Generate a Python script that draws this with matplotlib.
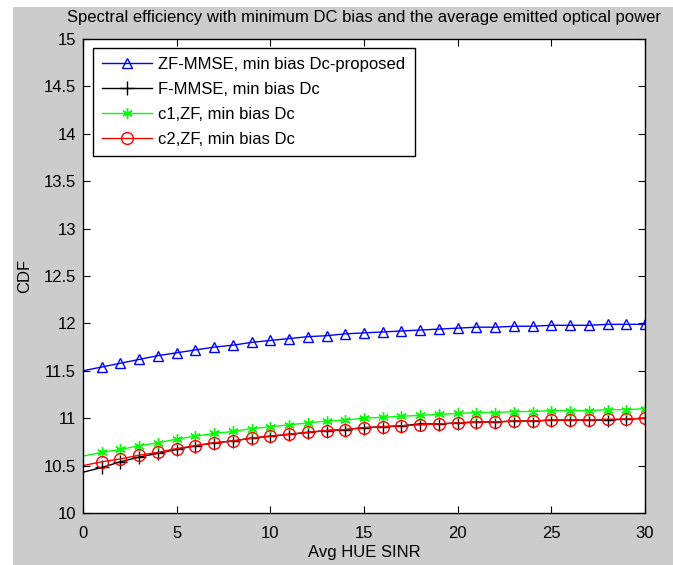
import matplotlib
matplotlib.use('Agg')
import matplotlib.pyplot as plt
from matplotlib.patches import Rectangle

plt.rcParams['font.family'] = ['Liberation Sans', 'DejaVu Sans']

# данные
snr = list(range(0, 31))
zf_mmse_prop = [11.50, 11.54, 11.58, 11.62, 11.66, 11.69, 11.72, 11.75, 11.77, 11.80,
                11.82, 11.84, 11.86, 11.87, 11.89, 11.90, 11.91, 11.92, 11.93, 11.94,
                11.95, 11.96, 11.96, 11.97, 11.97, 11.98, 11.98, 11.98, 11.99, 11.99, 11.99]
f_mmse = [10.43, 10.48, 10.54, 10.59, 10.63, 10.67, 10.71, 10.74, 10.76, 10.79,
          10.81, 10.83, 10.85, 10.87, 10.88, 10.90, 10.91, 10.92, 10.94, 10.94,
          10.95, 10.96, 10.96, 10.97, 10.97, 10.98, 10.98, 10.98, 10.98, 10.99, 11.00]
c1_zf = [10.60, 10.64, 10.67, 10.71, 10.74, 10.78, 10.81, 10.84, 10.86, 10.89,
         10.91, 10.93, 10.95, 10.97, 10.98, 11.00, 11.01, 11.02, 11.03, 11.04,
         11.05, 11.06, 11.06, 11.07, 11.07, 11.08, 11.08, 11.08, 11.09, 11.09, 11.10]
c2_zf = [10.50, 10.54, 10.57, 10.61, 10.64, 10.68, 10.71, 10.74, 10.76, 10.79,
         10.81, 10.83, 10.85, 10.87, 10.88, 10.90, 10.91, 10.92, 10.93, 10.94,
         10.95, 10.96, 10.96, 10.97, 10.97, 10.98, 10.98, 10.98, 10.99, 10.99, 11.00]

fs = 12

fig = plt.figure(figsize=(6.73, 5.65), dpi=100)
fig.patch.set_facecolor('white')
# серый фон окна как в MATLAB
fig.patches.append(Rectangle((13 / 673, -0.01), 1, 1.01 - 7 / 565, transform=fig.transFigure,
                             facecolor='#cccccc', edgecolor='none', zorder=-1))

ax = fig.add_axes([83 / 673, 1 - 513 / 565, 562 / 673, 474 / 565])
ax.set_facecolor('white')

ms = 7.5
every = slice(1, None)
ax.plot(snr, zf_mmse_prop, color='blue', lw=1, marker='^', mfc='none', ms=ms, mew=1,
        markevery=every, label='ZF-MMSE, min bias Dc-proposed')
ax.plot(snr, f_mmse, color='black', lw=1, marker='+', ms=ms + 2, mew=1,
        markevery=every, label='F-MMSE, min bias Dc')
ax.plot(snr, c1_zf, color='#00ff00', lw=1, marker=(6, 2, 0), ms=ms, mew=1,
        markevery=every, label='c1,ZF, min bias Dc')
ax.plot(snr, c2_zf, color='red', lw=1, marker='o', mfc='none', ms=ms + 1, mew=1,
        markevery=every, label='c2,ZF, min bias Dc')

ax.set_xlim(0, 30)
ax.set_ylim(10, 15)
ax.set_xticks(range(0, 31, 5))
ax.set_yticks([10 + 0.5 * i for i in range(11)])
ax.set_yticklabels(['10', '10.5', '11', '11.5', '12', '12.5', '13', '13.5', '14', '14.5', '15'])
ax.tick_params(direction='in', top=True, right=True, length=5, labelsize=fs)
ax.tick_params(axis='x', pad=9)
ax.tick_params(axis='y', pad=5)
for s in ax.spines.values():
    s.set_linewidth(1)

ax.set_xlabel('Avg HUE SINR', fontsize=fs, labelpad=3)
ax.set_ylabel('CDF', fontsize=fs, labelpad=8)
ax.set_title('Spectral efficiency with minimum DC bias and the average emitted optical power',
             fontsize=fs, pad=12)

leg = ax.legend(loc='upper left', bbox_to_anchor=(0.017, 0.981), borderaxespad=0,
                fancybox=False, framealpha=1, edgecolor='black', fontsize=fs,
                handlelength=3.0, handletextpad=0.4, labelspacing=0.6, borderpad=0.55)
leg.get_frame().set_linewidth(1)

plt.savefig('out.png', dpi=100)
